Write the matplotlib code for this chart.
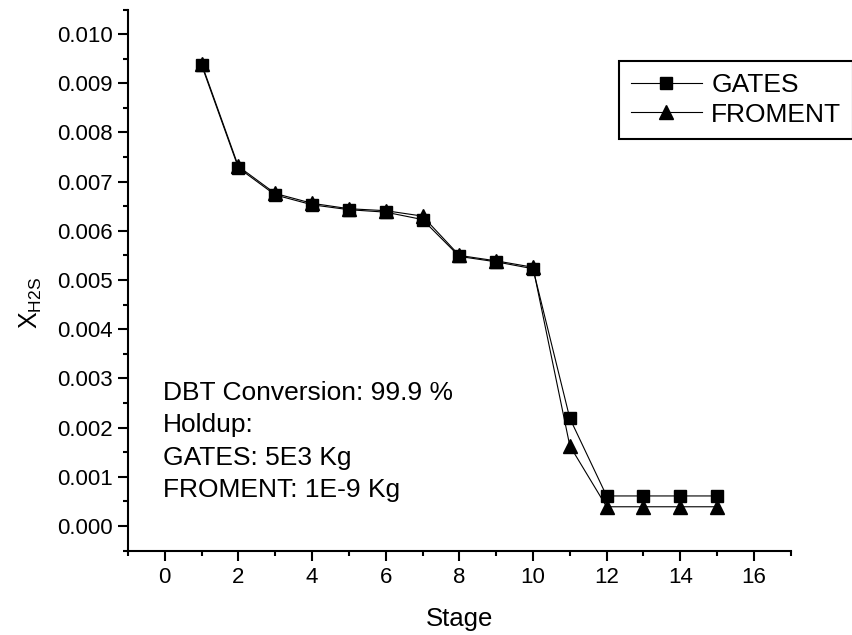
import matplotlib
matplotlib.use("Agg")
import matplotlib.pyplot as plt
from matplotlib.ticker import MultipleLocator, FormatStrFormatter

OUTPUT_IMAGE = "out.png"

stages = [1, 2, 3, 4, 5, 6, 7, 8, 9, 10, 11, 12, 13, 14, 15]
gates = [0.00937, 0.00728, 0.00673, 0.00653, 0.00643, 0.00638, 0.00623,
         0.00548, 0.00537, 0.00523, 0.00219, 0.00061, 0.00061, 0.00061, 0.00061]
froment = [0.00940, 0.00731, 0.00676, 0.00656, 0.00645, 0.00641, 0.00630,
           0.00550, 0.00539, 0.00526, 0.00163, 0.00039, 0.00039, 0.00039, 0.00039]

notes = ["DBT Conversion: 99.9 %", "Holdup:", "GATES: 5E3 Kg", "FROMENT: 1E-9 Kg"]

plt.rcParams['font.family'] = ['Liberation Sans', 'DejaVu Sans']
plt.rcParams['mathtext.fontset'] = 'custom'
plt.rcParams['mathtext.rm'] = 'Liberation Sans'
plt.rcParams['mathtext.it'] = 'Liberation Sans'


def main():
    fig = plt.figure(figsize=(8.53, 6.35), dpi=100, facecolor='white')
    ax = fig.add_axes([0.150, 0.133, 0.777, 0.852])

    # FROMENT drawn first so the squares sit on top
    l2, = ax.plot(stages, froment, color='black', lw=0.8, marker='^', ms=10,
                  mfc='black', mec='black', zorder=2, label='FROMENT')
    l1, = ax.plot(stages, gates, color='black', lw=0.8, marker='s', ms=9,
                  mfc='black', mec='black', zorder=3, label='GATES')

    ax.set_xlim(-1, 17)
    ax.set_ylim(-0.0005, 0.0105)

    ax.xaxis.set_major_locator(MultipleLocator(2))
    ax.xaxis.set_minor_locator(MultipleLocator(1))
    ax.yaxis.set_major_locator(MultipleLocator(0.001))
    ax.yaxis.set_minor_locator(MultipleLocator(0.0005))
    ax.yaxis.set_major_formatter(FormatStrFormatter('%.3f'))

    for side in ['top', 'right']:
        ax.spines[side].set_visible(False)
    for side in ['left', 'bottom']:
        ax.spines[side].set_linewidth(1.5)

    ax.tick_params(which='major', direction='out', length=7, width=1.5,
                   labelsize=16, pad=4)
    ax.tick_params(axis='x', which='major', pad=5)
    ax.tick_params(which='minor', direction='out', length=3.6, width=1.5)

    ax.set_xlabel("Stage", fontsize=18.5)
    ax.xaxis.set_label_coords(0.5, -0.105)
    ax.set_ylabel(r"X$_{\mathrm{H2S}}$", fontsize=18)
    ax.yaxis.set_label_coords(-0.127, 0.458)

    # annotation block
    ys = [0.278, 0.219, 0.158, 0.099]
    for txt, y in zip(notes, ys):
        ax.text(0.053, y, txt, transform=ax.transAxes, fontsize=19,
                va='baseline', ha='left')

    leg = fig.legend(handles=[l1, l2], loc='upper left',
                     bbox_to_anchor=(619 / 853, 1 - 61 / 635),
                     fontsize=19, frameon=True, fancybox=False, shadow=False,
                     borderaxespad=0, borderpad=0.45, handlelength=2.7,
                     handletextpad=0.35, labelspacing=0.22, framealpha=1)
    leg.get_frame().set_edgecolor('black')
    leg.get_frame().set_linewidth(1.5)

    fig.savefig(OUTPUT_IMAGE, dpi=100, facecolor='white')


if __name__ == "__main__":
    main()
